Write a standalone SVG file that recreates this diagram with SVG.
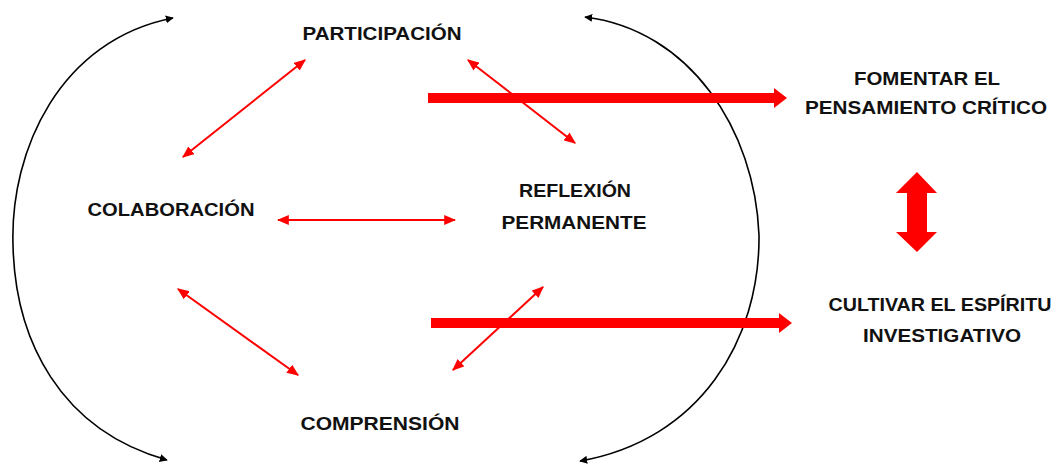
<svg xmlns="http://www.w3.org/2000/svg" width="1059" height="466" viewBox="0 0 1059 466">
<defs>
<style>
.t{font-family:"Liberation Sans",Arial,sans-serif;font-weight:bold;font-size:19px;fill:#111;text-anchor:middle}
.blk{fill:none;stroke:#000;stroke-width:1.6}
.thin{fill:none;stroke:#ff0000;stroke-width:2}
</style>
<marker id="ab" viewBox="0 0 10 10" refX="9" refY="5" markerWidth="8" markerHeight="8" markerUnits="userSpaceOnUse" orient="auto-start-reverse"><path d="M0,0 L10,5 L0,10 z" fill="#000"/></marker>
<marker id="ar" viewBox="0 0 10 10" refX="9" refY="5" markerWidth="12" markerHeight="10" markerUnits="userSpaceOnUse" orient="auto-start-reverse" preserveAspectRatio="none"><path d="M0,0 L10,5 L0,10 z" fill="#ff0000"/></marker>
</defs>
<rect width="1059" height="466" fill="#fff"/>
<g id="connectors">
<path class="blk" d="M173,18 C60,40 10,150 13,245 C15,340 60,430 167,460" marker-start="url(#ab)" marker-end="url(#ab)"/>
<path class="blk" d="M580,461 C700,440 760,340 759,235 C755,130 690,30 585,17" marker-start="url(#ab)" marker-end="url(#ab)"/>
<line class="thin" x1="305" y1="60" x2="183" y2="157" marker-start="url(#ar)" marker-end="url(#ar)"/>
<line class="thin" x1="468" y1="60" x2="575" y2="143" marker-start="url(#ar)" marker-end="url(#ar)"/>
<line class="thin" x1="278" y1="220" x2="455" y2="220" marker-start="url(#ar)" marker-end="url(#ar)"/>
<line class="thin" x1="178" y1="289" x2="298" y2="375" marker-start="url(#ar)" marker-end="url(#ar)"/>
<line class="thin" x1="543" y1="287" x2="453" y2="370" marker-start="url(#ar)" marker-end="url(#ar)"/>
<path d="M428,93 L774,93 L774,88 L787,98 L774,108 L774,103 L428,103 z" fill="#ff0000"/>
<path d="M431,318 L779,318 L779,313 L792,323 L779,333 L779,328 L431,328 z" fill="#ff0000"/>
<path d="M917,172 L937,193 L927,193 L927,232 L937,232 L917,252 L896,232 L907,232 L907,193 L896,193 z" fill="#ff0000"/>
</g>
<g id="participacion"><text class="t" x="382" y="40" textLength="159" lengthAdjust="spacingAndGlyphs">PARTICIPACIÓN</text></g>
<g id="colaboracion"><text class="t" x="171" y="216" textLength="167" lengthAdjust="spacingAndGlyphs">COLABORACIÓN</text></g>
<g id="reflexion"><text class="t" x="575" y="197" textLength="112" lengthAdjust="spacingAndGlyphs">REFLEXIÓN</text><text class="t" x="574" y="229" textLength="145" lengthAdjust="spacingAndGlyphs">PERMANENTE</text></g>
<g id="comprension"><text class="t" x="380" y="430" textLength="159" lengthAdjust="spacingAndGlyphs">COMPRENSIÓN</text></g>
<g id="fomentar"><text class="t" x="927" y="85" textLength="146" lengthAdjust="spacingAndGlyphs">FOMENTAR EL</text><text class="t" x="926" y="114" textLength="242" lengthAdjust="spacingAndGlyphs">PENSAMIENTO CRÍTICO</text></g>
<g id="cultivar"><text class="t" x="940" y="311" textLength="223" lengthAdjust="spacingAndGlyphs">CULTIVAR EL ESPÍRITU</text><text class="t" x="942" y="342" textLength="158" lengthAdjust="spacingAndGlyphs">INVESTIGATIVO</text></g>
</svg>
